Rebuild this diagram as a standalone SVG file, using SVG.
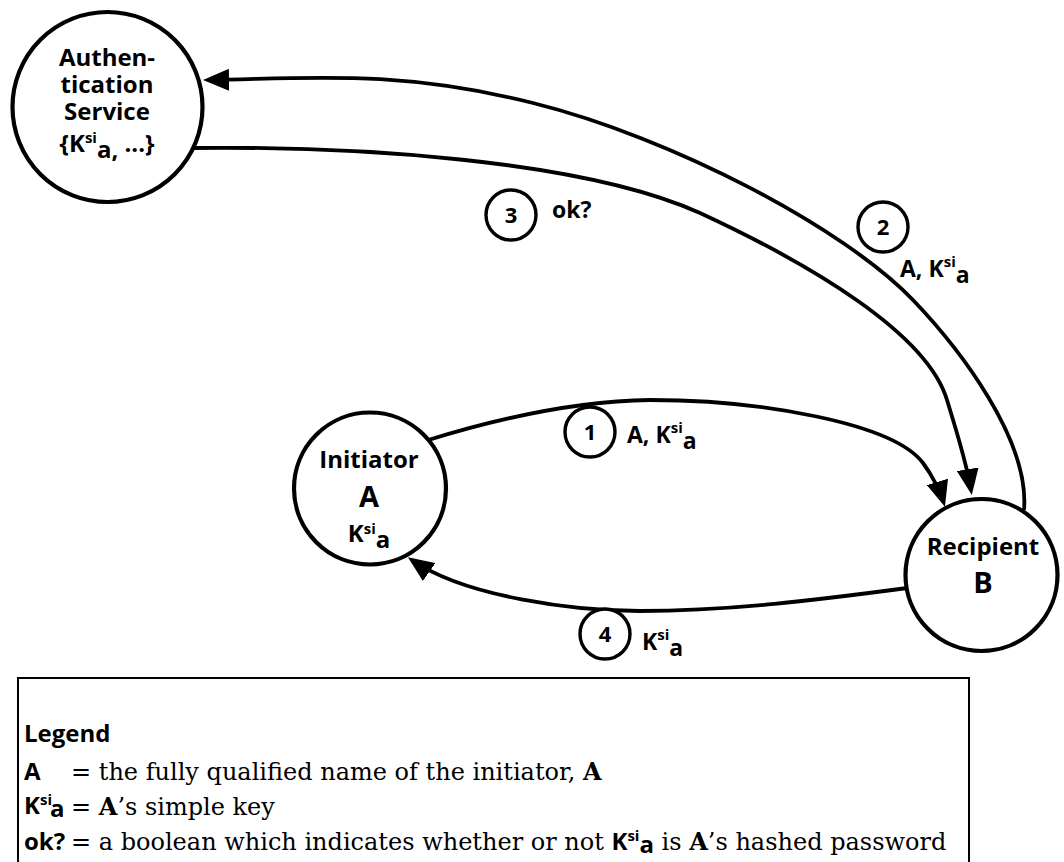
<svg xmlns="http://www.w3.org/2000/svg" width="1064" height="862" viewBox="0 0 1064 862">
<style>
.bg{fill:#fff}
.node{fill:#fff;stroke:#000;stroke-width:4.2}
.num{fill:#fff;stroke:#000;stroke-width:3.4}
.conn{fill:none;stroke:#000;stroke-width:3.8}
.s{font-family:"Open Sans","Liberation Sans",sans-serif;font-weight:700;font-size:24px;fill:#000}
.big{font-size:29px}
.lab{font-size:23px}
.dig{font-size:22px}
.sup{font-size:15px}
.r{font-family:"DejaVu Serif","Liberation Serif",serif;font-weight:400;font-size:24px;fill:#000}
.rb{font-weight:700}
.box{fill:none;stroke:#000;stroke-width:2}
</style>
<defs>
<marker id="ah" viewBox="0 0 26 22" refX="21" refY="11" markerWidth="26" markerHeight="22" markerUnits="userSpaceOnUse" orient="auto">
<path d="M0,0 L26,11 L0,22 z" fill="#000"/>
</marker>
</defs>
<rect class="bg" x="0" y="0" width="1064" height="862"/>

<g id="connectors">
<path id="c2" class="conn" marker-end="url(#ah)" d="M1024,510 C1030,440 959,348 913,300 C844,228 673,138 533,103 C393,68 300,79 208,80"/>
<path id="c3" class="conn" marker-end="url(#ah)" d="M190,148 C350,146 580,159 700,213 C810,264 927,333 947,400 C956,429 967,465 971,490"/>
<path id="c1" class="conn" marker-end="url(#ah)" d="M425,441 C502,417 580,401 650,400 C760,400 893,423 923,463 C932,475 940.5,492 943.5,502"/>
<path id="c4" class="conn" marker-end="url(#ah)" d="M915,587 C817,600 730,611 640,611 C575,611 465,597 412,560"/>
</g>

<g id="auth">
<circle class="node" cx="107.5" cy="107" r="95"/>
<text class="s" text-anchor="middle"><tspan x="107" y="66">Authen-</tspan><tspan x="107" y="93">tication</tspan><tspan x="107" y="120">Service</tspan><tspan x="107" y="152">{K<tspan class="sup" dy="-9">si</tspan><tspan dy="15">a,</tspan><tspan dy="-6"> ...}</tspan></tspan></text>
</g>

<g id="initiator">
<circle class="node" cx="370" cy="488.5" r="76"/>
<text class="s" x="369" y="468" text-anchor="middle">Initiator</text>
<text class="s big" x="369" y="507" text-anchor="middle">A</text>
<text class="s" x="369" y="542" text-anchor="middle">K<tspan class="sup" dy="-8">si</tspan><tspan dy="14">a</tspan></text>
</g>

<g id="recipient">
<circle class="node" cx="981.5" cy="575" r="76"/>
<text class="s" x="983" y="555" text-anchor="middle">Recipient</text>
<text class="s big" x="983" y="593" text-anchor="middle">B</text>
</g>

<g id="step1">
<circle class="num" cx="590" cy="432" r="25"/>
<text class="s dig" x="590" y="440" text-anchor="middle">1</text>
<text class="s lab" x="627" y="443">A, K<tspan class="sup" dy="-10">si</tspan><tspan dy="16">a</tspan></text>
</g>

<g id="step2">
<circle class="num" cx="883" cy="227" r="25"/>
<text class="s dig" x="883" y="235" text-anchor="middle">2</text>
<text class="s lab" x="900" y="277">A, K<tspan class="sup" dy="-10">si</tspan><tspan dy="16">a</tspan></text>
</g>

<g id="step3">
<circle class="num" cx="511" cy="215" r="25"/>
<text class="s dig" x="511" y="223" text-anchor="middle">3</text>
<text class="s lab" x="552" y="218">ok?</text>
</g>

<g id="step4">
<circle class="num" cx="605" cy="634" r="25"/>
<text class="s dig" x="605" y="642" text-anchor="middle">4</text>
<text class="s lab" x="642" y="650">K<tspan class="sup" dy="-10">si</tspan><tspan dy="16">a</tspan></text>
</g>

<g id="legend">
<path class="box" d="M18,870 L18,678 L969,678 L969,870"/>
<text class="s" x="24" y="742">Legend</text>
<text class="s" x="24" y="780">A</text>
<text class="r" x="71" y="780">= the fully qualified name of the initiator, <tspan class="rb">A</tspan></text>
<text class="s" x="24" y="814">K<tspan class="sup" dy="-9">si</tspan><tspan dy="12" dx="-2">a</tspan></text>
<text class="r" x="71" y="815">= <tspan class="rb">A</tspan>’s simple key</text>
<text class="s" x="24" y="850">ok?</text>
<text class="r" x="71" y="850">= a boolean which indicates whether or not <tspan class="s">K<tspan class="sup" dy="-9">si</tspan><tspan dy="12">a</tspan></tspan><tspan dy="-3"> is </tspan><tspan class="rb">A</tspan>’s hashed password</text>
</g>
</svg>
